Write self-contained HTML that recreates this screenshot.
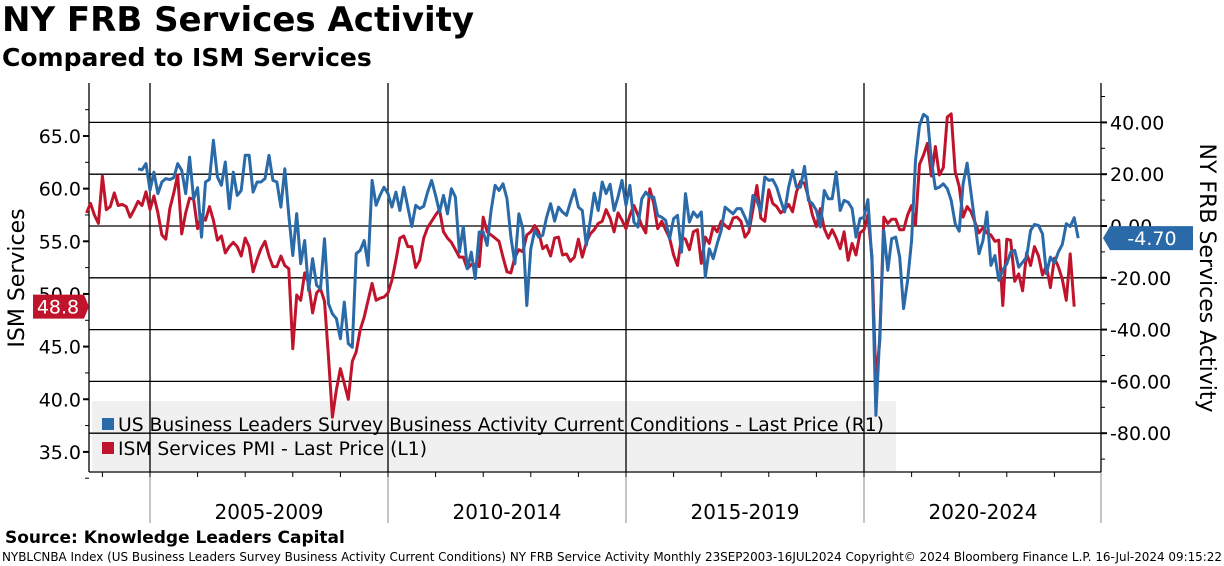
<!DOCTYPE html>
<html><head><meta charset="utf-8">
<style>
html,body{margin:0;padding:0;background:#fff;width:1224px;height:566px;overflow:hidden;font-family:"DejaVu Sans","Liberation Sans",sans-serif;}
#title{position:absolute;left:2px;top:0px;font-size:34px;font-weight:bold;color:#000;letter-spacing:0px;}
#subtitle{position:absolute;left:2px;top:43px;font-size:25px;font-weight:bold;color:#000;}
svg{position:absolute;left:0;top:0;}
</style></head><body>
<div id="title">NY FRB Services Activity</div>
<div id="subtitle">Compared to ISM Services</div>
<svg id="chart" width="1224" height="566" xmlns="http://www.w3.org/2000/svg"></svg>
<script>
const startYear = 2003, startMonth = 8; // Sep 2003 = index 0
const ismValues = [57.7,58.6,57.5,56.7,61.2,58.0,58.3,59.6,58.4,58.5,58.3,57.3,58.0,58.8,58.4,59.7,58.0,59.3,57.7,55.6,55.2,58.1,59.6,61.3,55.7,57.7,59.1,59.0,56.2,57.5,57.0,58.3,57.0,55.1,55.5,53.9,54.5,54.9,54.5,53.6,55.3,54.5,52.1,53.3,54.3,55.0,53.6,52.6,52.6,53.6,52.7,52.4,44.8,49.9,49.4,52.0,51.0,48.2,50.1,50.5,49.3,44.0,38.3,40.9,42.9,41.5,40.0,43.6,44.5,46.6,47.8,49.4,51.0,49.4,49.6,
49.7,50.1,51.3,53.2,55.3,55.5,54.5,54.5,52.5,53.2,55.3,56.3,56.9,57.5,58.0,55.9,55.3,54.9,54.2,53.5,53.5,52.4,52.8,52.8,52.6,57.3,55.9,55.6,55.3,55.0,53.5,52.1,52.0,53.5,54.2,54.0,55.6,55.9,56.5,55.9,54.3,54.6,53.6,55.3,55.4,53.7,53.8,53.1,53.5,55.2,53.5,54.9,55.7,56.1,56.7,56.9,58.0,57.2,55.9,57.7,57.0,56.2,57.5,58.4,
57.5,56.5,55.8,60.0,58.6,56.2,56.9,56.1,55.3,53.7,52.7,55.4,55.2,54.2,55.9,56.1,52.9,55.4,54.8,56.4,55.9,56.9,56.5,56.2,57.2,57.3,56.9,55.4,55.9,58.0,60.3,57.2,56.9,59.9,58.6,58.3,57.7,58.0,58.5,57.8,59.7,60.7,60.5,59.2,57.5,56.4,58.1,56.2,55.3,56.1,55.3,54.3,55.9,53.2,54.8,53.7,55.8,
56.1,57.5,53.6,41.7,45.6,57.3,56.7,57.1,57.1,56.1,56.1,57.5,58.4,56.6,62.3,63.2,64.3,61.2,64.0,61.3,62.0,66.8,67.1,61.6,60.2,57.3,58.3,57.8,56.8,55.8,56.3,55.8,55.6,55.0,55.1,48.9,55.2,55.1,51.2,51.9,50.3,53.9,52.7,54.5,53.6,51.8,52.7,50.6,53.4,52.6,51.4,49.4,53.8,48.8];
const nyStartIndex = 13;
const nyValues = [22.1,21.7,24.1,13.7,20.8,12.5,17.0,18.3,17.9,18.7,24.1,21.5,12.5,26.6,10.5,14.8,-4.3,17.0,18.0,33.1,19.0,15.7,24.7,6.7,20.8,11.8,13.7,27.3,27.3,13.1,17.0,17.0,18.3,27.3,17.6,17.0,7.3,22.1,4.1,-11.4,4.8,-14.6,-5.6,-24.9,-12.6,-22.9,-24.2,-4.9,-30.0,-33.9,-35.8,-43.5,-29.4,-45.4,-46.8,-10.7,-9.4,-5.6,-15.2,17.6,8.0,11.8,15.0,
12.5,7.3,13.1,6.0,15.0,7.3,-0.2,8.0,6.7,7.6,13.1,17.6,11.8,5.4,11.8,4.7,14.4,11.2,-10.1,-0.2,-16.5,-10.1,-20.3,-2.3,-2.3,-7.5,6.0,15.7,13.7,16.3,10.5,-4.3,-14.6,4.7,-1.0,-30.7,-8.8,-1.7,-4.3,-3.6,3.4,8.6,1.9,7.3,5.4,4.1,9.2,14.0,7.3,6.0,-7.5,2.2,12.7,6.0,17.0,12.5,16.1,6.0,11.2,17.6,8.0,15.7,1.5,-0.4,
10.5,13.1,11.2,11.2,4.1,3.4,2.2,-4.9,2.8,4.1,-10.1,12.5,1.5,5.4,3.4,5.4,-19.7,-8.8,-12.6,-6.8,-1.7,7.3,6.0,4.7,6.7,6.7,3.4,-0.4,11.8,9.9,5.4,18.9,17.6,17.9,15.0,9.9,5.4,15.0,21.5,15.0,15.0,23.0,9.9,8.6,6.0,-0.4,13.7,10.5,10.5,20.8,6.0,9.9,9.2,6.7,-4.3,2.8,
3.4,10.2,-13.3,-73.1,-41.6,-1.7,-17.1,-4.9,-4.3,-12.0,-31.9,-21.0,-5.6,25.3,38.8,43.1,42.0,25.3,14.4,15.0,16.3,14.4,9.9,0.9,-2.0,16.3,24.3,12.5,0.9,-10.7,-5.6,5.4,-15.2,-11.4,-21.0,-17.0,-14.6,-10.1,-9.4,-15.9,-14.0,-12.0,-1.7,0.6,0.2,-3.0,-18.4,-12.0,-14.3,-10.1,-7.1,0.9,-0.2,3.2,-4.7];
const leftTicks = [35,40,45,50,55,60,65];
const leftTickLabels = ["35.0","40.0","45.0","50.0","55.0","60.0","65.0"];
const rightTicks = [-80,-60,-40,-20,0,20,40];
const rightTickLabels = ["-80.00","-60.00","-40.00","-20.00","0.00","20.00","40.00"];
const periodLabels = ["2005-2009","2010-2014","2015-2019","2020-2024"];
const periodStartYears = [2005,2010,2015,2020];
const lastIsm = "48.8", lastNy = "-4.70";

const NS="http://www.w3.org/2000/svg";
const svg=document.getElementById('chart');
const L=89,R=1101,T=83,B=472;
function xM(i){return 86.5+i*(47.6/12);}
function xYear(y){return 150+(y-2005)*47.6;}
function yL(v){return 136+(65-v)*10.53;}
function yR(v){return 226-v*2.59;}
function mk(tag,attrs){const e=document.createElementNS(NS,tag);for(const k in attrs)e.setAttribute(k,attrs[k]);svg.appendChild(e);return e;}
const FF='DejaVu Sans, Liberation Sans, sans-serif';

let lg=mk('rect',{x:92,y:401,width:804,height:70,fill:'#f0f0f0'});



rightTicks.forEach((v,i)=>{
  let g=mk('line',{x1:L,x2:R,y1:yR(v),y2:yR(v),stroke:'#000','stroke-width':1.3});
  
  
});
periodStartYears.forEach(y=>{
  let g=mk('line',{x1:xYear(y),x2:xYear(y),y1:T,y2:B,stroke:'#000','stroke-width':1.3});
  
  
  let g2=mk('line',{x1:xYear(y),x2:xYear(y),y1:B,y2:523,stroke:'#888','stroke-width':1});
  
  
});
let g3=mk('line',{x1:R,x2:R,y1:B,y2:523,stroke:'#888','stroke-width':1});


let ax=mk('line',{x1:L,x2:L,y1:T,y2:B,stroke:'#000','stroke-width':1.3});


let ax2=mk('line',{x1:R,x2:R,y1:T,y2:B,stroke:'#000','stroke-width':1.3});


let ax3=mk('line',{x1:L,x2:R,y1:B,y2:B,stroke:'#000','stroke-width':1.3});


for(let y=2004;y<=2024;y++){
  let t=mk('line',{x1:xYear(y),x2:xYear(y),y1:B,y2:B+5,stroke:'#000','stroke-width':1});
  
  
}
for(let v=32.5;v<=67.5;v+=2.5){
  let major=(v%5===0);
  let t=mk('line',{x1:L-(major?6:4),x2:L,y1:yL(v),y2:yL(v),stroke:'#000','stroke-width':major?2:1});
  
  
}
leftTicks.forEach((v,i)=>{
  let t=mk('text',{x:81,y:yL(v)+7,'text-anchor':'end','font-size':19,'font-family':FF,fill:'#000'});
  t.textContent=leftTickLabels[i];
  
  
});
for(let v=-90;v<=50;v+=10){
  let major=(v%20===0);
  let t=mk('line',{x1:R,x2:R+(major?6:4),y1:yR(v),y2:yR(v),stroke:'#000','stroke-width':major?2:1});
  
  
}
rightTicks.forEach((v,i)=>{
  let t=mk('text',{x:1110,y:yR(v)+7,'text-anchor':'start','font-size':19,'font-family':FF,fill:'#000'});
  t.textContent=rightTickLabels[i];
  
  
});
periodLabels.forEach((s,i)=>{
  let t=mk('text',{x:xYear(periodStartYears[i])+119,y:519,'text-anchor':'middle','font-size':20,'font-family':FF,fill:'#000'});
  t.textContent=s;
  
  
});
function pathFor(vals,start,yf){return vals.map((v,i)=>(i?'L':'M')+xM(start+i).toFixed(1)+','+yf(v).toFixed(1)).join('');}
let ism=mk('path',{d:pathFor(ismValues,0,yL),fill:'none',stroke:'#c0142c','stroke-width':3,'stroke-linejoin':'round'});


let ny=mk('path',{d:pathFor(nyValues,nyStartIndex,yR),fill:'none',stroke:'#2a6aa8','stroke-width':3,'stroke-linejoin':'round'});



let ls1=mk('rect',{x:102,y:418,width:12,height:12,fill:'#2a6aa8'});


let lt1=mk('text',{x:118,y:431,'font-size':18.7,'font-family':FF,fill:'#000',textLength:766,lengthAdjust:'spacingAndGlyphs'});
lt1.textContent='US Business Leaders Survey Business Activity Current Conditions - Last Price (R1)';


let ls2=mk('rect',{x:102,y:442,width:12,height:12,fill:'#c0142c'});


let lt2=mk('text',{x:118,y:455,'font-size':18.7,'font-family':FF,fill:'#000'});
lt2.textContent='ISM Services PMI - Last Price (L1)';



const yi=yL(parseFloat(lastIsm));
let tg1=mk('path',{d:`M33,${yi-12}L84,${yi-12}L89,${yi}L84,${yi+12}L33,${yi+12}Z`,fill:'#c0142c'});


let tt1=mk('text',{x:58,y:yi+7,'text-anchor':'middle','font-size':19,'font-family':FF,fill:'#fff'});
tt1.textContent=lastIsm;


const yn=yR(parseFloat(lastNy));
let tg2=mk('path',{d:`M1103,${yn}L1110,${yn-12}L1193,${yn-12}L1193,${yn+12}L1110,${yn+12}Z`,fill:'#2a6aa8'});


let tt2=mk('text',{x:1152,y:yn+7,'text-anchor':'middle','font-size':19,'font-family':FF,fill:'#fff'});
tt2.textContent=lastNy;



let at1=mk('text',{x:0,y:0,transform:'translate(24,278) rotate(-90)','text-anchor':'middle','font-size':22,'font-family':FF,fill:'#000'});
at1.textContent='ISM Services';


let at2=mk('text',{x:0,y:0,transform:'translate(1200,278) rotate(90)','text-anchor':'middle','font-size':22,'font-family':FF,fill:'#000'});
at2.textContent='NY FRB Services Activity';



let f1=mk('text',{x:5,y:543,'font-size':17,'font-weight':'bold','font-family':FF,fill:'#000'});
f1.textContent='Source: Knowledge Leaders Capital';


let f2=mk('text',{x:2,y:561,'font-size':12,'font-family':FF,fill:'#000',textLength:1220,lengthAdjust:'spacingAndGlyphs'});
f2.textContent='NYBLCNBA Index (US Business Leaders Survey Business Activity Current Conditions) NY FRB Service Activity  Monthly 23SEP2003-16JUL2024  Copyright© 2024 Bloomberg Finance L.P.  16-Jul-2024 09:15:22';


</script>
</body></html>
